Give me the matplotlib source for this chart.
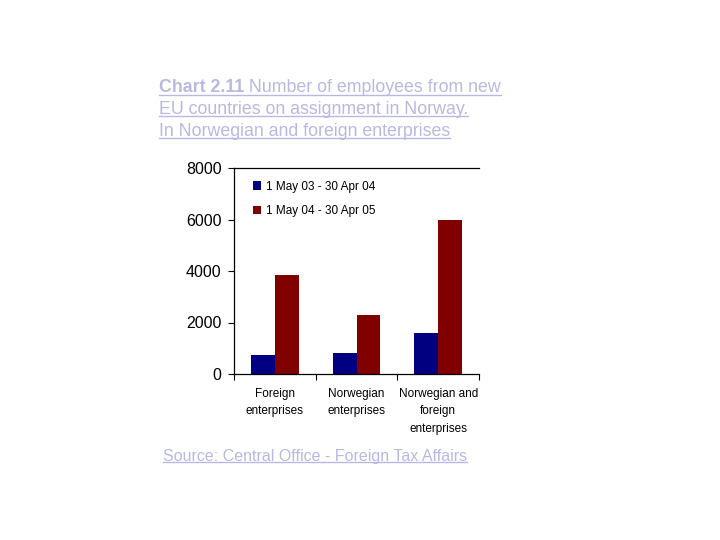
import matplotlib
matplotlib.use("Agg")
import matplotlib.pyplot as plt
from matplotlib.lines import Line2D
import numpy as np

categories = ["Foreign\nenterprises", "Norwegian\nenterprises", "Norwegian and\nforeign\nenterprises"]
series_names = ["1 May 03 - 30 Apr 04", "1 May 04 - 30 Apr 05"]
values_0304 = [740, 830, 1600]
values_0405 = [3850, 2300, 6000]
yticks = [0, 2000, 4000, 6000, 8000]
title_bold = "Chart 2.11"
title_lines = [" Number of employees from new",
               "EU countries on assignment in Norway.",
               "In Norwegian and foreign enterprises"]
source_text = "Source: Central Office - Foreign Tax Affairs"

plt.rcParams['font.family'] = ['Liberation Sans', 'DejaVu Sans']

fig = plt.figure(figsize=(7.2, 5.4), dpi=100)
ax = fig.add_axes([234/720, 1-374/540, (479-234)/720, (374-168)/540])

x = np.arange(len(categories))
w = 0.29
ax.bar(x - w/2, values_0304, w, color="#000080", label=series_names[0])
ax.bar(x + w/2, values_0405, w, color="#800000", label=series_names[1])

ax.set_xlim(-0.5, 2.5)
ax.set_ylim(0, 8000)
ax.set_yticks(yticks)
ax.set_yticklabels([str(v) for v in yticks], fontsize=11.5)
ax.tick_params(axis='y', length=4, width=0.8, pad=5, direction='out')
ax.set_xticks([-0.5, 0.5, 1.5, 2.5])
ax.set_xticklabels([])
ax.tick_params(axis='x', which='major', length=4, width=0.8, direction='out')
ax.set_xticks(x, minor=True)
ax.set_xticklabels(categories, minor=True, fontsize=8.5, linespacing=1.6)
ax.tick_params(axis='x', which='minor', length=0, pad=10)
ax.spines['right'].set_visible(False)
for s in ['left', 'bottom', 'top']:
    ax.spines[s].set_linewidth(0.9)

leg = ax.legend(loc='upper left', frameon=False, handlelength=0.7, handleheight=0.7,
                handletextpad=0.4, labelspacing=1.05, bbox_to_anchor=(0.035, 0.99),
                prop={'size': 8.5})

lav = "#b8b8e2"
fig.canvas.draw()
r = fig.canvas.get_renderer()

underline_spans = []
fs = 12.8
tb = fig.text(159/720, 1-88/540, title_bold, fontsize=fs, color=lav, va='center', ha='left',
              fontweight='bold')
bb0 = tb.get_window_extent(renderer=r)
t1 = fig.text(bb0.x1/720, 1-88/540, title_lines[0], fontsize=fs, color=lav, va='center', ha='left')
bb1 = t1.get_window_extent(renderer=r)
underline_spans.append((bb0.x0, bb1.x1, min(bb0.y0, bb1.y0)))
for line, yy in zip(title_lines[1:], [109, 131]):
    t = fig.text(159/720, 1-yy/540, line, fontsize=fs, color=lav, va='center', ha='left')
    bb = t.get_window_extent(renderer=r)
    underline_spans.append((bb.x0, bb.x1, bb.y0))
src = fig.text(163/720, 1-456/540, source_text, fontsize=11.5, color=lav, va='center', ha='left')
bb = src.get_window_extent(renderer=r)
underline_spans.append((bb.x0, bb.x1, bb.y0))

for x0, x1, y0 in underline_spans:
    yline = y0 + 2
    fig.add_artist(Line2D([x0/720, x1/720], [yline/540, yline/540], color=lav, lw=1.0,
                          transform=fig.transFigure))

fig.savefig("out.png", dpi=100, facecolor="white")
